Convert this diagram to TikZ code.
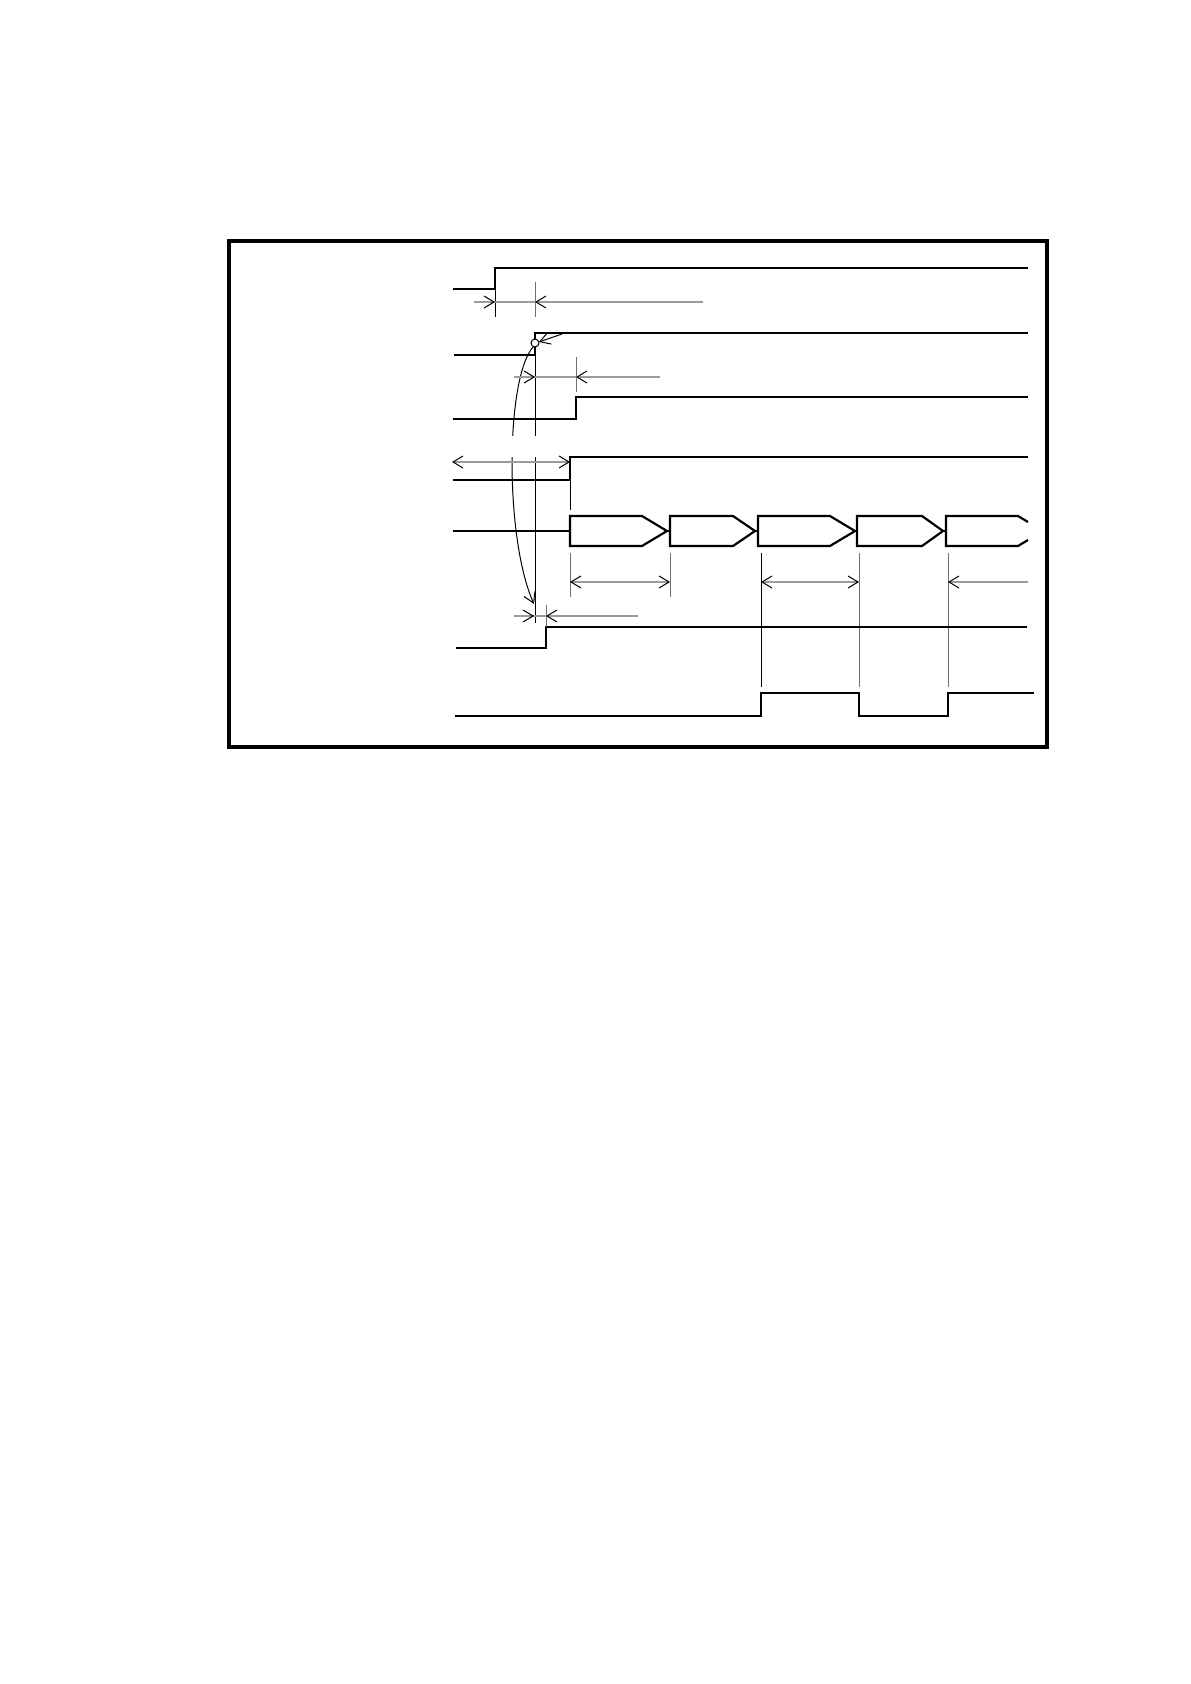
\documentclass[tikz,border=0pt]{standalone}
\usepackage{tikz}
\usetikzlibrary{arrows.meta}
\definecolor{DimCol}{RGB}{155,155,155}
\definecolor{TickCol}{RGB}{110,110,110}
\tikzstyle{sig} = [line width=1.1pt, line join=miter]
\tikzstyle{guide} = [line width=0.5pt]
\tikzstyle{dim} = [line width=0.6pt, DimCol]

\begin{document}
\begin{tikzpicture}[x=0.5pt, y=-0.5pt, >={Straight Barb[length=5pt,width=6pt,color=black,line width=0.5pt]}]
                    \useasboundingbox (0,0) rectangle (1190,1684);

                    \draw[line width=1.6pt] (229,241) rectangle (1047,747);

                    % first line
                    \draw[sig] (453,289) -- (495,289) -- (495,268) -- (1028,268);
                    \draw[guide] (495,289) -- (495,317);
                    \draw[guide,TickCol] (535,282) -- (535,317);
                    \draw[dim] (474,302) -- (703,302);
                    \draw[dim,->] (474,302) -- (495,302);
                    \draw[dim,->] (703,302) -- (535,302);

                    % second line, with the marked corner
                    \draw[sig] (454,355) -- (535,355) -- (535,333) -- (1028,333);
                    \draw[guide] (535,355) -- (535,623);
                    \draw[guide,->] (533,347) .. controls (505,380) and (505,540) .. (534,604);
                    \fill[white] (505,436) rectangle (540,457);
                    \draw[guide,fill=white] (535,343) circle (4);
                    \draw[guide,->] (562,334) -- (539,342);

                    % third line
                    \draw[sig] (453,419) -- (576,419) -- (576,397) -- (1028,397);
                    \draw[guide,TickCol] (576,357) -- (576,392);
                    \draw[dim] (514,377) -- (660,377);
                    \draw[dim,->] (514,377) -- (535,377);
                    \draw[dim,->] (660,377) -- (576,377);

                    % fourth line
                    \draw[sig] (453,480) -- (570,480) -- (570,457) -- (1028,457);
                    \draw[guide] (570,480) -- (570,510);
                    \draw[dim,<->] (452,462) -- (570,462);

                    % bus with its words
                    \draw[sig] (453,531) -- (570,531);
                    \foreach \a/\b/\c/\d in {570/642/667/670, 670/733/755/758, 758/830/855/857, 857/922/943/946}
                    {
                        \draw[sig] (\a,516) -- (\b,516) -- (\c,531) -- (\b,546) -- (\a,546) -- cycle;
                        \draw[sig] (\c,531) -- (\d,531);
                    }
                    \draw[sig] (1028,522) -- (1018,516) -- (946,516) -- (946,546) -- (1018,546) -- (1028,540);

                    \draw[guide,TickCol] (570,553) -- (570,597);
                    \draw[guide,TickCol] (670,553) -- (670,597);
                    \draw[dim,<->] (570,582) -- (670,582);
                    \draw[guide] (761,553) -- (761,687);
                    \draw[guide,TickCol] (859,553) -- (859,687);
                    \draw[guide,TickCol] (948,553) -- (948,687);
                    \draw[dim,<->] (761,582) -- (859,582);
                    \draw[dim,->] (1028,582) -- (948,582);

                    % sixth line
                    \draw[sig] (456,648) -- (546,648) -- (546,627) -- (1027,627);
                    \draw[guide,TickCol] (546,605) -- (546,627);
                    \draw[dim] (514,616) -- (638,616);
                    \draw[dim,->] (514,616) -- (534,616);
                    \draw[dim,->] (638,616) -- (546,616);

                    % last line
                    \draw[sig] (455,716) -- (761,716) -- (761,693) -- (859,693) -- (859,716)
                        -- (948,716) -- (948,693) -- (1034,693);

\end{tikzpicture}
\end{document}
